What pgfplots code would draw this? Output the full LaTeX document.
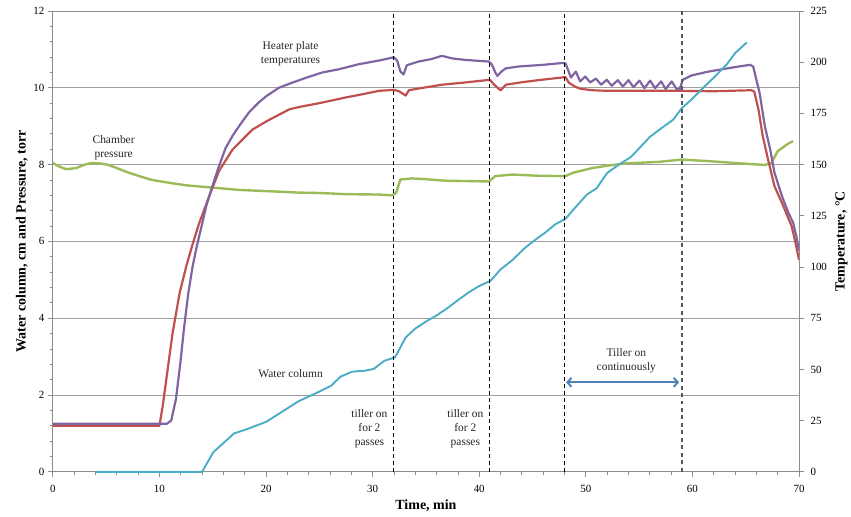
\documentclass[border=0pt]{standalone}
\usepackage{fontspec}
\setmainfont{Liberation Serif}
\usepackage{pgfplots}
\pgfplotsset{compat=1.18}
\usetikzlibrary{arrows.meta}

\definecolor{heatred}{HTML}{C0504D}
\definecolor{heatpurple}{HTML}{8064A2}
\definecolor{presgreen}{HTML}{9BBB59}
\definecolor{watercyan}{HTML}{4BACC6}
\definecolor{arrowblue}{HTML}{4F81BD}
\definecolor{axisgray}{HTML}{8C8C8C}

\pgfplotsset{
  base/.style={
    width=748pt, height=462pt, scale only axis,
    xmin=0, xmax=70,
    /pgf/number format/assume math mode=true,
    tick label style={font=\fontsize{11}{13}\selectfont},
    label style={font=\bfseries\fontsize{14}{16}\selectfont},
    axis line style={draw=axisgray, line width=0.8pt},
    tick style={draw=axisgray, line width=0.8pt},
    tick align=outside,
    major tick length=5pt, minor tick length=3pt,
  },
}

\begin{document}
\begin{tikzpicture}
% left axis: pressure and grid
\begin{axis}[base,
  ymin=0, ymax=12,
  xtick={0,10,...,70}, ytick={0,2,...,12},
  minor x tick num=4, minor y tick num=4,
  xtick pos=bottom, ytick pos=left,
  xticklabel style={yshift=-5pt},
  ymajorgrids, major grid style={draw=gray!75, line width=0.9pt},
  xlabel={Time, min},
  ylabel={Water column, cm and Pressure, torr},
  xlabel style={at={(axis description cs:0.5,-0.073)}, anchor=center},
  ylabel style={at={(axis description cs:-0.0414,0.5)}, anchor=center},
]
\addplot[presgreen, line width=2.4pt, line join=round] coordinates {
  (0,8.04)(0.6,7.95)(1.25,7.88)(2.2,7.91)(3.0,8.0)(3.6,8.04)(4.4,8.03)
  (5.1,8.0)(5.9,7.92)(7.0,7.8)(8.1,7.70)(9.3,7.6)(10.6,7.54)(12.5,7.46)
  (15.0,7.40)(17.5,7.34)(20.0,7.31)(23.1,7.27)(25,7.26)(27.5,7.23)
  (30.6,7.22)(31.8,7.2)(32.2,7.26)(32.6,7.61)(33.7,7.64)(35,7.62)
  (36.8,7.58)(39,7.57)(40.9,7.56)(41.5,7.70)(43.1,7.74)(45.5,7.71)
  (47.8,7.70)(48.1,7.70)(48.7,7.78)(50.6,7.91)(52,7.97)(53.7,8.03)
  (56.8,8.07)(59.0,8.13)(61.5,8.09)(64.6,8.03)(66.8,7.99)(67.4,8.04)
  (68.0,8.35)(69.0,8.55)(69.45,8.61)
};
\end{axis}

% right axis: heater plate temperatures
\begin{axis}[base,
  ymin=0, ymax=225,
  hide x axis,
  ytick={0,25,...,225},
  ytick pos=right, yticklabel pos=right,
  yticklabel style={xshift=3pt},
  ylabel={Temperature, °C},
  ylabel style={at={(axis description cs:1.057,0.5)}, anchor=center},
]
\addplot[heatred, line width=2.2pt, line join=round] coordinates {
  (0,22.5)(10,22.5)(10.3,32)(10.77,50)(11.24,68)(11.9,87.5)(12.5,100)
  (13.1,111)(13.7,121)(14.7,135)(15.6,147)(16.85,157.3)(18.7,167)
  (20.0,171)(20.9,173.5)(22.2,177)(23.1,178.1)(25.0,180)(27.5,182.8)
  (28.7,184)(30.6,186)(32.0,186.5)(32.5,185.7)(33.1,183.7)(33.4,186.3)
  (34.5,187.3)(36.5,189)(38.5,190)(41.0,191.4)(41.4,189)(42.0,186.2)
  (42.5,189)(44,190.2)(46,191.5)(48.1,192.7)(48.4,190)(49.0,188)
  (49.5,187)(50.6,186.3)(52,186)(55,186)(59,186)(62,185.8)(65.5,186.3)
  (65.8,185.7)(66.2,176.8)(66.6,163.8)(67.1,152.4)(67.7,139.4)
  (68.4,131.3)(69.3,120)(69.6,113.5)(70,103.5)
};
\addplot[heatpurple, line width=2.2pt, line join=round] coordinates {
  (0,23.5)(10.7,23.5)(11.1,25)(11.55,35.5)(12.0,55)(12.3,70)(12.7,87)
  (13.1,100)(13.5,110)(14.0,121)(14.4,130)(15.0,140)(15.5,148)(16.2,158)
  (16.85,164)(17.5,169)(18.4,175.5)(19.35,180.5)(20.0,183.3)(21.2,187.5)
  (22.2,189.5)(23.7,192.3)(25.3,195)(26.8,196.5)(28.7,199)(30.6,200.8)
  (32.0,202.4)(32.3,200.8)(32.6,195.5)(32.9,194)(33.2,198.5)(34.3,200.3)
  (35.5,201.5)(36.5,203.1)(37.5,201.8)(38.7,201.1)(40.9,200.3)
  (41.2,198.7)(41.5,195)(41.7,193.3)(42.1,195.5)(42.5,197)(43.7,197.9)
  (46,198.7)(47.8,199.6)(48.1,199.4)(48.6,192.5)
  (49.06,195.4)(49.47,190.6)(49.94,193)(50.41,190.1)(50.94,192)
  (51.44,189)(51.97,191.4)(52.43,188.5)(53.0,191.2)(53.47,188.1)
  (54.0,191.2)(54.47,187.8)(55.03,191)(55.5,187.3)(56.03,191)
  (56.5,187.3)(57.06,190.6)(57.49,186.9)(58.05,190.6)(58.52,186.9)
  (58.8,186.8)(59.1,191.4)(59.9,193.5)(61.5,195.4)(64.0,197.6)
  (65.4,198.7)(65.7,197.9)(66.3,185)(66.8,168.6)(67.3,157.3)(67.7,146)
  (68.4,134.6)(69.0,126.5)(69.45,121.6)(69.75,115)(70.0,108)
};
\end{axis}

% overlay: water column, markers and notes
\begin{axis}[base, ymin=0, ymax=12, hide axis, clip=false]
\addplot[watercyan, line width=1.9pt, line join=round] coordinates {
  (4.06,0)(14.0,0)(15.05,0.51)(17.0,1.0)(18.1,1.10)(20.0,1.30)(21.2,1.51)
  (23.0,1.83)(25.0,2.09)(26.1,2.24)(27.0,2.48)(28.1,2.61)(29.2,2.63)
  (30.1,2.68)(31.1,2.89)(32.1,2.98)(33.1,3.50)(34.0,3.73)(35.1,3.93)
  (36.05,4.08)(37.1,4.28)(38.1,4.49)(39.0,4.67)(40.0,4.84)(41.05,4.97)
  (42.0,5.27)(43.1,5.51)(44.2,5.81)(45.1,6.01)(46.2,6.23)(47.1,6.44)
  (48.1,6.59)(49.0,6.88)(50.1,7.22)(51.0,7.38)(52.0,7.78)(53.1,8.0)
  (54.2,8.19)(55.2,8.48)(56.0,8.72)(57.1,8.95)(58.2,9.17)(59.0,9.47)
  (59.9,9.69)(60.9,9.97)(62.1,10.29)(63.2,10.60)(64.0,10.90)(65.1,11.18)
};
\addplot[black, line width=1pt, dash pattern=on 4pt off 3pt] coordinates {(32,0)(32,12)};
\addplot[black, line width=1pt, dash pattern=on 4pt off 3pt] coordinates {(41,0)(41,12)};
\addplot[black, line width=1pt, dash pattern=on 4pt off 3pt] coordinates {(48,0)(48,12)};
\addplot[black!65, line width=1.5pt, dash pattern=on 4pt off 3.5pt] coordinates {(59,0)(59,12)};
\addplot[arrowblue, line width=2pt,
  arrows={Straight Barb[length=4pt,width=9pt]-Straight Barb[length=4pt,width=9pt]}]
  coordinates {(48.15,2.33)(58.75,2.33)};

\begin{scope}[every node/.style={align=center, text=black!85,
    font=\fontsize{11.5}{14}\selectfont}]
\node at (axis cs:22.3,10.88) {Heater plate\\temperatures};
\node at (axis cs:5.7,8.45) {Chamber\\pressure};
\node at (axis cs:22.3,2.55) {Water column};
\node at (axis cs:29.7,1.12) {tiller on\\for 2\\passes};
\node at (axis cs:38.7,1.12) {tiller on\\for 2\\passes};
\node at (axis cs:53.8,2.88) {Tiller on\\continuously};
\end{scope}
\end{axis}
\path (-53pt,-45pt) rectangle (798pt,473pt);
\end{tikzpicture}
\end{document}
